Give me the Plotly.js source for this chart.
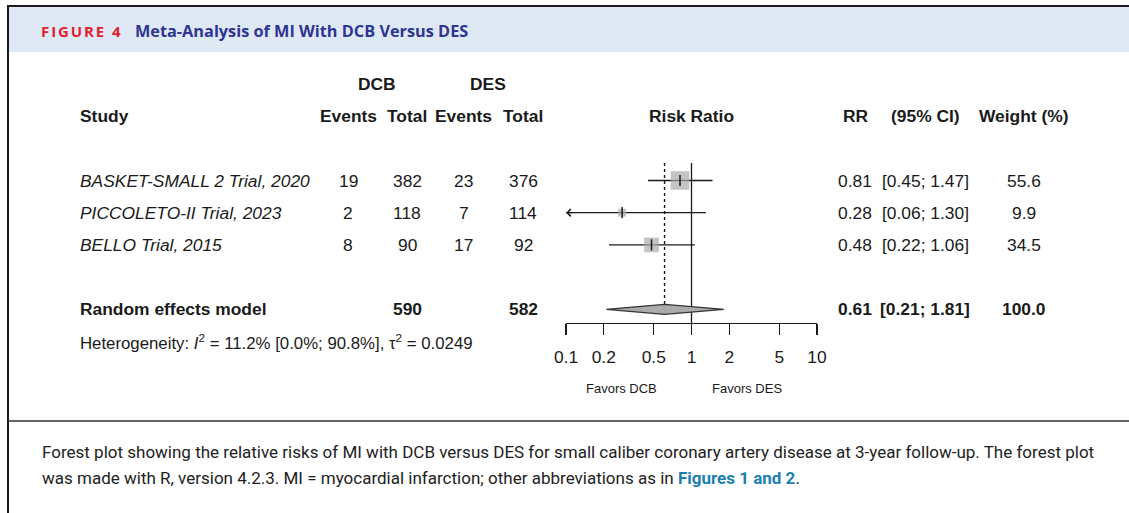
<!DOCTYPE html>
<html><head><meta charset="utf-8">
<script src="https://cdn.plot.ly/plotly-3.0.1.min.js"></script>
<style>html,body{margin:0;padding:0;background:#fff;}#chart{width:1129px;height:513px;}</style>
</head><body><div id="chart"></div>
<script>
// ---------------- data ----------------
const studies   = ['BASKET-SMALL 2 Trial, 2020', 'PICCOLETO-II Trial, 2023', 'BELLO Trial, 2015'];
const dcbEvents = [19, 2, 8];
const dcbTotal  = [382, 118, 90];
const desEvents = [23, 7, 17];
const desTotal  = [376, 114, 92];
const rr        = [0.81, 0.28, 0.48];
const ciLow     = [0.45, 0.06, 0.22];
const ciHigh    = [1.47, 1.30, 1.06];
const weight    = [55.6, 9.9, 34.5];

const pooledLabel    = 'Random effects model';
const pooledRR       = 0.61;
const pooledLow      = 0.21;
const pooledHigh     = 1.81;
const pooledWeight   = 100.0;
const pooledDcbTotal = 590;
const pooledDesTotal = 582;

const hetI2 = '11.2%', hetI2Low = '0.0%', hetI2High = '90.8%', hetTau2 = '0.0249';

const tickVals   = [0.1, 0.2, 0.5, 1, 2, 5, 10];
const tickLabels = ['0.1', '0.2', '0.5', '1', '2', '5', '10'];

// ---------------- layout constants ----------------
const W = 1129, H = 513;
const ROW1_PX = 180.5, ROW_PX = 32.2, PLOT_TOP_PX = 163, AXIS_PX = 323;
const rowOf = p => 1 + (p - ROW1_PX) / ROW_PX;
const rowPx = r => ROW1_PX + (r - 1) * ROW_PX;
const studyRows = studies.map((_, i) => i + 1);
const pooledRow = 5, hetRow = 6, headRow = -1, groupRow = -2;
const px = x => x / W, py = y => 1 - y / H;

const FONT = 'Liberation Sans, Arial, sans-serif';
const FS = 17.4;
const INK = '#1a1a1a';
const GRAY = '#ababab';
const fmt2 = v => v.toFixed(2);

const yTop = rowOf(PLOT_TOP_PX), yBot = rowOf(AXIS_PX);
const diamondHalf = 5 / ROW_PX;

// ---------------- traces ----------------
const traces = [];
traces.push({x: [1, 1], y: [yTop, yBot], mode: 'lines', line: {color: INK, width: 1.3}, hoverinfo: 'skip'});
traces.push({x: [pooledRR, pooledRR], y: [yTop, pooledRow - diamondHalf], mode: 'lines',
  line: {color: INK, width: 1.4, dash: 'dot'}, hoverinfo: 'skip'});
const ciX = [], ciY = [];
studies.forEach((_, i) => { ciX.push(ciLow[i], ciHigh[i], null); ciY.push(studyRows[i], studyRows[i], null); });
traces.push({x: ciX, y: ciY, mode: 'lines', line: {color: INK, width: 1.3}, hoverinfo: 'skip'});
traces.push({x: rr, y: studyRows, mode: 'markers', cliponaxis: false,
  marker: {symbol: 'square', color: GRAY, size: weight.map(w => 2.5 * Math.sqrt(w)), line: {width: 0}}});
traces.push({x: rr, y: studyRows, mode: 'markers', cliponaxis: false,
  marker: {symbol: 'line-ns', size: 8, line: {width: 1.5, color: INK}}});
traces.push({x: [pooledLow, pooledRR, pooledHigh, pooledRR, pooledLow],
  y: [pooledRow, pooledRow - diamondHalf, pooledRow, pooledRow + diamondHalf, pooledRow],
  mode: 'lines', fill: 'toself', fillcolor: GRAY, line: {color: '#333', width: 1.2}, hoverinfo: 'skip'});

// ---------------- annotations ----------------
const ann = [];
function txt(text, xPix, yPix, o = {}) {
  ann.push({xref: 'paper', x: px(xPix), yref: 'paper', y: py(yPix), text: text, showarrow: false,
    xanchor: o.xa || 'center', yanchor: 'middle',
    font: {family: o.family || FONT, size: o.size || FS, color: o.color || INK}});
}
const COL = {study: 78, dcbEv: 348, dcbTot: 407, desEv: 464, desTot: 523, rr: 855, ci: 925, w: 1024, rrHead: 856};

txt('<b>DCB</b>', 377, rowPx(groupRow));
txt('<b>DES</b>', 488, rowPx(groupRow));
txt('<b>Study</b>', COL.study, rowPx(headRow), {xa: 'left'});
txt('<b>Events</b>', COL.dcbEv, rowPx(headRow));
txt('<b>Total</b>', COL.dcbTot, rowPx(headRow));
txt('<b>Events</b>', COL.desEv, rowPx(headRow));
txt('<b>Total</b>', COL.desTot, rowPx(headRow));
txt('<b>Risk Ratio</b>', 691.5, rowPx(headRow));
txt('<b>RR</b>', COL.rrHead, rowPx(headRow));
txt('<b>(95% CI)</b>', COL.ci, rowPx(headRow));
txt('<b>Weight (%)</b>', COL.w, rowPx(headRow));

studies.forEach((s, i) => {
  const y = rowPx(studyRows[i]);
  txt('<i>' + s + '</i>', COL.study, y, {xa: 'left'});
  txt(String(dcbEvents[i]), COL.dcbEv, y);
  txt(String(dcbTotal[i]), COL.dcbTot, y);
  txt(String(desEvents[i]), COL.desEv, y);
  txt(String(desTotal[i]), COL.desTot, y);
  txt(fmt2(rr[i]), COL.rr, y);
  txt('[' + fmt2(ciLow[i]) + '; ' + fmt2(ciHigh[i]) + ']', COL.ci, y);
  txt(weight[i].toFixed(1), COL.w, y);
});
const yp = rowPx(pooledRow);
txt('<b>' + pooledLabel + '</b>', COL.study, yp, {xa: 'left'});
txt('<b>' + pooledDcbTotal + '</b>', COL.dcbTot, yp);
txt('<b>' + pooledDesTotal + '</b>', COL.desTot, yp);
txt('<b>' + fmt2(pooledRR) + '</b>', COL.rr, yp);
txt('<b>[' + fmt2(pooledLow) + '; ' + fmt2(pooledHigh) + ']</b>', COL.ci, yp);
txt('<b>' + pooledWeight.toFixed(1) + '</b>', COL.w, yp);
txt('Heterogeneity: <i>I</i><sup>2</sup> = ' + hetI2 + ' [' + hetI2Low + '; ' + hetI2High + '], τ<sup>2</sup> = ' + hetTau2,
  COL.study, rowPx(hetRow), {xa: 'left', size: 16.8});

studies.forEach((_, i) => {
  if (ciLow[i] < tickVals[0]) {
    ann.push({xref: 'x', yref: 'y', x: Math.log10(tickVals[0]), y: studyRows[i], ax: 10, ay: 0, text: ' ',
      showarrow: true, arrowhead: 4, arrowsize: 1.1, arrowwidth: 1.3, arrowcolor: INK, standoff: 0});
  }
});

txt('Favors DCB', 621, 388, {size: 13});
txt('Favors DES', 747, 388, {size: 13});

txt('<b><span style="letter-spacing:1.9px">FIGURE 4</span></b>', 39, 31, {xa: 'left', size: 15,
  family: 'Open Sans, sans-serif', color: '#e3202d'});
txt('<b>Meta-Analysis of MI With DCB Versus DES</b>', 133, 31, {xa: 'left', size: 16.3,
  family: 'Open Sans, sans-serif', color: '#2e3592'});

const capFont = 'Roboto, sans-serif';
txt('Forest plot showing the relative risks of MI with DCB versus DES for small caliber coronary artery disease at 3-year follow-up. The forest plot',
  40, 452, {xa: 'left', size: 17, family: capFont, color: '#222'});
txt('was made with R, version 4.2.3. MI = myocardial infarction; other abbreviations as in <b><span style="color:#1b80b3">Figures 1 and 2</span></b>.',
  40, 478, {xa: 'left', size: 17, family: capFont, color: '#222'});

// ---------------- shapes (frame) ----------------
const shapes = [
  {type: 'rect', xref: 'paper', yref: 'paper', x0: px(9), x1: 1, y0: py(52), y1: py(7), fillcolor: '#dfe9f5', line: {width: 0}, layer: 'below'},
  {type: 'line', xref: 'paper', yref: 'paper', x0: px(7), x1: 1, y0: py(6), y1: py(6), line: {color: '#1a1a1a', width: 2}},
  {type: 'line', xref: 'paper', yref: 'paper', x0: px(8), x1: px(8), y0: py(5), y1: 0, line: {color: '#1a1a1a', width: 2}},
  {type: 'line', xref: 'paper', yref: 'paper', x0: px(8), x1: 1, y0: py(421), y1: py(421), line: {color: '#333', width: 1.5}}
];

const layout = {
  width: W, height: H, margin: {l: 0, r: 0, t: 0, b: 0}, showlegend: false,
  paper_bgcolor: '#fff', plot_bgcolor: 'rgba(0,0,0,0)',
  xaxis: {type: 'log', domain: [px(566), px(817)], range: [-1, 1], showgrid: false, zeroline: false,
    showline: true, linecolor: INK, linewidth: 1.3, ticks: 'outside', ticklen: 11, tickwidth: 1.3, tickcolor: INK,
    tickvals: tickVals, ticktext: tickLabels, tickfont: {family: FONT, size: FS, color: INK},
    ticklabelstandoff: 7, automargin: false, fixedrange: true},
  yaxis: {domain: [py(AXIS_PX), py(PLOT_TOP_PX)], range: [yBot, yTop], visible: false, fixedrange: true},
  annotations: ann, shapes: shapes, hovermode: false
};
Plotly.newPlot('chart', traces, layout, {displayModeBar: false, staticPlot: true});
</script></body></html>
